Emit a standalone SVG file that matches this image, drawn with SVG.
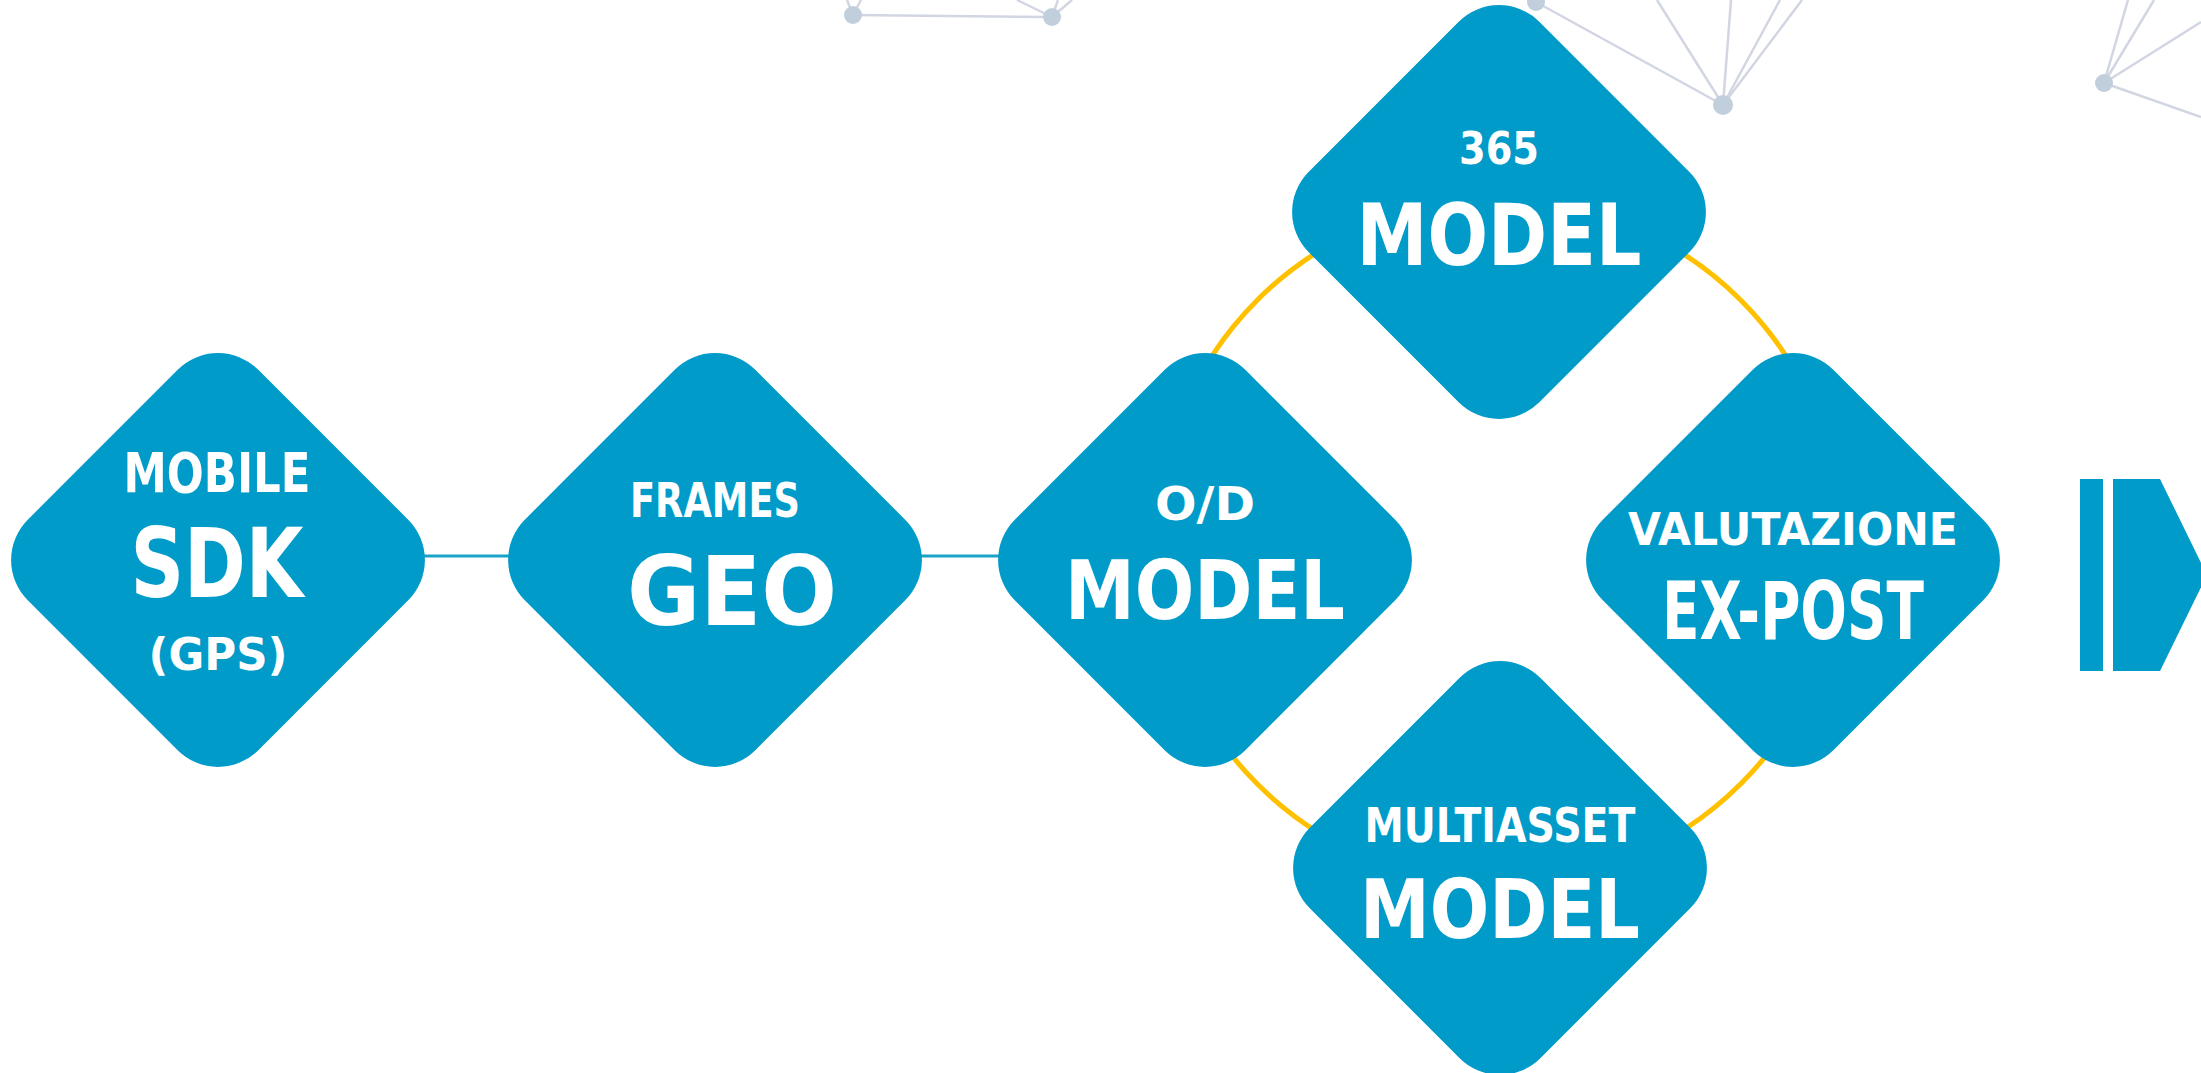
<svg xmlns="http://www.w3.org/2000/svg" width="2201" height="1073" viewBox="0 0 2201 1073">
<defs>
<style>
.dia{fill:#019BCA}
.t{fill:#FFFFFF;font-family:"DejaVu Sans","Liberation Sans",sans-serif;font-weight:bold;text-anchor:middle}
.net line{stroke:#D2D6E2;stroke-width:2.5}
.net circle{fill:#C1CEDC}
.conn{stroke:#1AA3C6;stroke-width:3;fill:none}
.arc{stroke:#FFC000;stroke-width:5;fill:none}
</style>
<rect id="dshape" x="-163" y="-163" width="326" height="326" rx="57" ry="57" transform="rotate(45)"/>
</defs>
<rect width="2201" height="1073" fill="#FFFFFF"/>
<g class="net">
<line x1="853" y1="15" x2="1052" y2="17"/>
<line x1="853" y1="15" x2="847" y2="0"/>
<line x1="853" y1="15" x2="861" y2="0"/>
<line x1="1052" y1="17" x2="1017" y2="0"/>
<line x1="1052" y1="17" x2="1058" y2="0"/>
<line x1="1052" y1="17" x2="1072" y2="0"/>
<circle cx="853" cy="15" r="9"/>
<circle cx="1052" cy="17" r="9"/>
<line x1="1536" y1="2" x2="1723" y2="105"/>
<line x1="1723" y1="105" x2="1657" y2="0"/>
<line x1="1723" y1="105" x2="1731" y2="0"/>
<line x1="1723" y1="105" x2="1780" y2="0"/>
<line x1="1723" y1="105" x2="1802" y2="0"/>
<circle cx="1536" cy="2" r="9"/>
<circle cx="1723" cy="105" r="10"/>
<line x1="2104" y1="83" x2="2128" y2="0"/>
<line x1="2104" y1="83" x2="2154" y2="0"/>
<line x1="2104" y1="83" x2="2201" y2="22"/>
<line x1="2104" y1="83" x2="2201" y2="117"/>
<circle cx="2104" cy="83" r="9"/>
</g>
<g id="connectors">
<line class="conn" x1="400" y1="556" x2="530" y2="556"/>
<line class="conn" x1="900" y1="556" x2="1020" y2="556"/>
<circle class="arc" cx="1499" cy="542" r="342"/>
</g>
<g id="node-sdk">
<use href="#dshape" class="dia" transform="translate(218,560)"/>
<text class="t" x="217" y="492" font-size="55" textLength="187" lengthAdjust="spacingAndGlyphs">MOBILE</text>
<text class="t" x="217" y="597" font-size="96" textLength="173" lengthAdjust="spacingAndGlyphs">SDK</text>
<text class="t" x="218" y="670" font-size="45" textLength="139" lengthAdjust="spacingAndGlyphs">(GPS)</text>
</g>
<g id="node-geo">
<use href="#dshape" class="dia" transform="translate(715,560)"/>
<text class="t" x="715" y="517" font-size="48" textLength="170" lengthAdjust="spacingAndGlyphs">FRAMES</text>
<text class="t" x="732" y="625" font-size="96" textLength="210" lengthAdjust="spacingAndGlyphs">GEO</text>
</g>
<g id="node-od">
<use href="#dshape" class="dia" transform="translate(1205,560)"/>
<text class="t" x="1205" y="520" font-size="47" textLength="100" lengthAdjust="spacingAndGlyphs">O/D</text>
<text class="t" x="1205" y="619" font-size="82" textLength="280" lengthAdjust="spacingAndGlyphs">MODEL</text>
</g>
<g id="node-365">
<use href="#dshape" class="dia" transform="translate(1499,212)"/>
<text class="t" x="1499" y="164" font-size="45" textLength="80" lengthAdjust="spacingAndGlyphs">365</text>
<text class="t" x="1499" y="265" font-size="85" textLength="285" lengthAdjust="spacingAndGlyphs">MODEL</text>
</g>
<g id="node-multiasset">
<use href="#dshape" class="dia" transform="translate(1500,868)"/>
<text class="t" x="1500" y="842" font-size="48" textLength="271" lengthAdjust="spacingAndGlyphs">MULTIASSET</text>
<text class="t" x="1500" y="938" font-size="82" textLength="280" lengthAdjust="spacingAndGlyphs">MODEL</text>
</g>
<g id="node-expost">
<use href="#dshape" class="dia" transform="translate(1793,560)"/>
<text class="t" x="1793" y="545" font-size="45" textLength="330" lengthAdjust="spacingAndGlyphs">VALUTAZIONE</text>
<text class="t" x="1793" y="639" font-size="81" textLength="262" lengthAdjust="spacingAndGlyphs">EX-POST</text>
</g>
<g id="node-next">
<rect class="dia" x="2080" y="479" width="23" height="192"/>
<polygon class="dia" points="2113,479 2160,479 2207,575 2160,671 2113,671"/>
</g>
</svg>
